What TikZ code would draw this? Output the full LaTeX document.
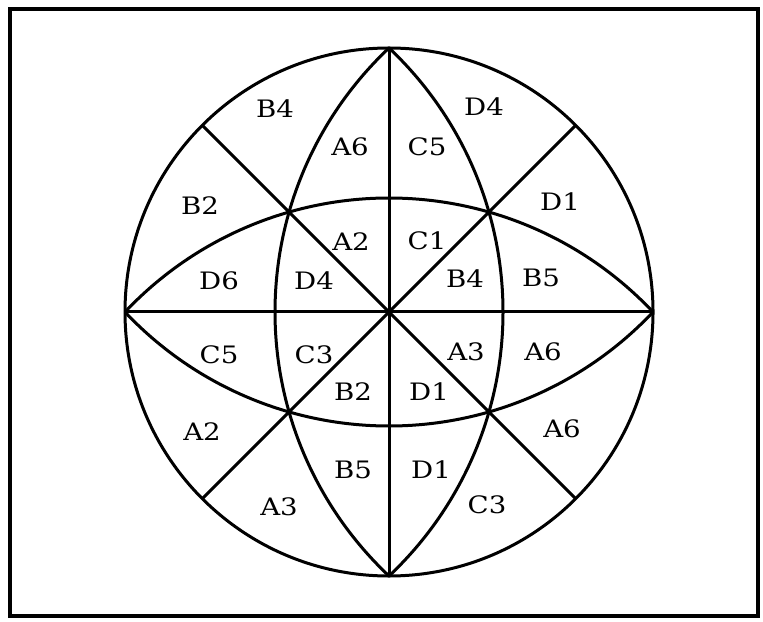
\documentclass[tikz,border=0pt]{standalone}
\usepackage{graphicx}
\usepackage{fontspec}
\newfontfamily\lblfont{DejaVu Serif}
\usetikzlibrary{calc}
\newcommand\lblw[1]{\scalebox{1.15}[1]{#1}}
\begin{document}
\begin{tikzpicture}[x=0.5pt,y=0.5pt,
  lineart/.style={line width=1.5pt},
  framebox/.style={line width=1.6pt},
  lbl/.style={inner sep=0pt,font=\lblfont\fontsize{12}{14}\selectfont}]
\useasboundingbox (0,0) rectangle (763,621);
\coordinate (fa) at (10,5);
\coordinate (fb) at (758,612);
\draw[framebox] (fa) rectangle (fb);
% circle
\coordinate (O) at (389,309);
\node[lineart,draw,circle,minimum size=264pt,inner sep=0pt] (circ) at (O) {};
\coordinate (T) at (389,573);
\coordinate (B) at (389,45);
\coordinate (L) at (125,309);
\coordinate (R) at (653,309);
\coordinate (NW) at ($(O)+(135:264)$);
\coordinate (NE) at ($(O)+(45:264)$);
\coordinate (SW) at ($(O)+(225:264)$);
\coordinate (SE) at ($(O)+(315:264)$);
% straight lines
\draw[lineart] (T) -- (B);
\draw[lineart] (L) -- (R);
\draw[lineart] (NW) -- (SE);
\draw[lineart] (NE) -- (SW);
% vertical lens
\draw[lineart] (T) arc[start angle=46.71,end angle=-46.71,radius=181.35pt];
\draw[lineart] (T) arc[start angle=133.29,end angle=226.71,radius=181.35pt];
% horizontal lens
\draw[lineart] (L) arc[start angle=136.71,end angle=43.29,radius=181.35pt];
\draw[lineart] (L) arc[start angle=223.29,end angle=316.71,radius=181.35pt];
% labels
\node[lbl] (l1) at (275,512) {\lblw{B4}};
\node[lbl] (l2) at (350,474) {\lblw{A6}};
\node[lbl] (l3) at (427,474) {\lblw{C5}};
\node[lbl] (l4) at (484,514) {\lblw{D4}};
\node[lbl] (l5) at (200,415) {\lblw{B2}};
\node[lbl] (l6) at (560,419) {\lblw{D1}};
\node[lbl] (l7) at (351,379) {\lblw{A2}};
\node[lbl] (l8) at (427,380) {\lblw{C1}};
\node[lbl] (l9) at (219,340) {\lblw{D6}};
\node[lbl] (l10) at (314,340) {\lblw{D4}};
\node[lbl] (l11) at (465,342) {\lblw{B4}};
\node[lbl] (l12) at (541,343) {\lblw{B5}};
\node[lbl] (l13) at (219,266) {\lblw{C5}};
\node[lbl] (l14) at (314,266) {\lblw{C3}};
\node[lbl] (l15) at (466,269) {\lblw{A3}};
\node[lbl] (l16) at (543,269) {\lblw{A6}};
\node[lbl] (l17) at (353,229) {\lblw{B2}};
\node[lbl] (l18) at (429,229) {\lblw{D1}};
\node[lbl] (l19) at (202,189) {\lblw{A2}};
\node[lbl] (l20) at (562,192) {\lblw{A6}};
\node[lbl] (l21) at (353,151) {\lblw{B5}};
\node[lbl] (l22) at (431,151) {\lblw{D1}};
\node[lbl] (l23) at (279,114) {\lblw{A3}};
\node[lbl] (l24) at (487,116) {\lblw{C3}};
\end{tikzpicture}
\end{document}
